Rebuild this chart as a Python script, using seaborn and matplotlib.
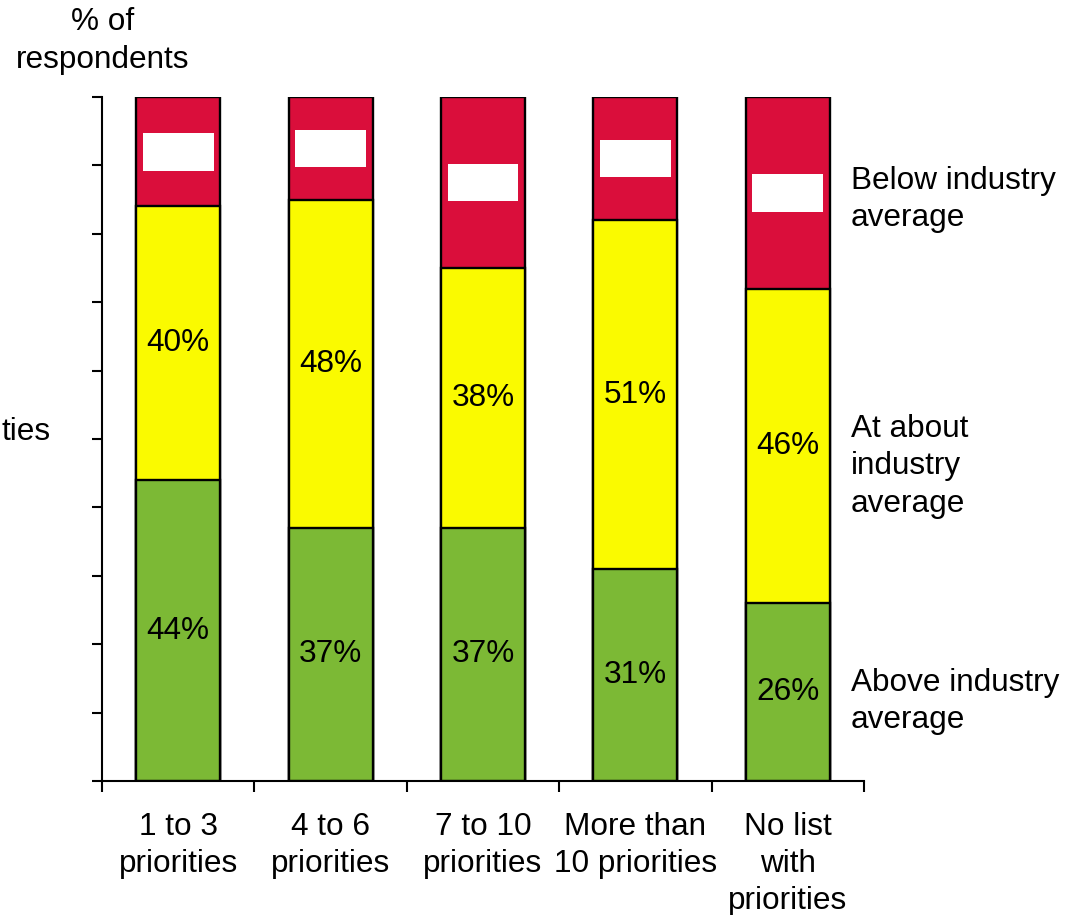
import matplotlib
matplotlib.use("Agg")
import matplotlib.pyplot as plt
import seaborn as sns
import pandas as pd
import numpy as np

categories = ["1 to 3\npriorities", "4 to 6\npriorities", "7 to 10\npriorities",
              "More than\n10 priorities", "No list\nwith\npriorities"]
above = [44, 37, 37, 31, 26]
about = [40, 48, 38, 51, 46]
below = [16, 15, 25, 18, 28]
series_labels = ["Below industry\naverage", "At about\nindustry\naverage", "Above industry\naverage"]

sns.set_theme(style="white")
plt.rcParams["font.family"] = ["Liberation Sans", "DejaVu Sans"]
plt.rcParams["text.color"] = "black"
plt.rcParams["xtick.color"] = "black"
plt.rcParams["ytick.color"] = "black"
FS = 22.7
LS = 1.32

df = pd.DataFrame({"cat": categories, "above": above, "about": about, "below": below})
df["c1"] = df["above"]
df["c2"] = df["above"] + df["about"]
df["c3"] = df["above"] + df["about"] + df["below"]

red = "#DA0E3B"
yellow = "#FAFA00"
green = "#7CB935"

fig = plt.figure(figsize=(10.74, 9.15), dpi=100)
ax = fig.add_axes([102/1074, 1-781/915, (864-102)/1074, (781-97)/915])

kw = dict(width=0.55, edgecolor="black", linewidth=1.7, ax=ax, saturation=1)
sns.barplot(data=df, x="cat", y="c3", color=red, **kw)
sns.barplot(data=df, x="cat", y="c2", color=yellow, **kw)
sns.barplot(data=df, x="cat", y="c1", color=green, **kw)

ax.set_xlim(-0.5, 4.5)
ax.set_ylim(0, 100)
ax.set_xlabel("")
ax.set_ylabel("")

# segment labels
for i in range(len(categories)):
    ax.text(i, above[i] / 2, f"{above[i]}%", ha="center", va="center", fontsize=FS, color="black")
    ax.text(i, above[i] + about[i] / 2, f"{about[i]}%", ha="center", va="center", fontsize=FS, color="black")
    ax.text(i, above[i] + about[i] + below[i] / 2, f"{below[i]}%", ha="center", va="center",
            fontsize=FS, color="white",
            bbox=dict(boxstyle="square,pad=0.12", facecolor="white", edgecolor="none"))

# axes styling
for s in ["top", "right"]:
    ax.spines[s].set_visible(False)
for s in ["left", "bottom"]:
    ax.spines[s].set_color("black")
    ax.spines[s].set_linewidth(1.5)

ax.set_yticks(np.arange(0, 101, 10))
ax.set_yticklabels([])
ax.tick_params(axis="y", direction="out", length=7, width=1.5, color="black", left=True)

ax.set_xticks(range(len(categories)))
ax.set_xticklabels(categories, fontsize=FS, linespacing=LS, color="black")
ax.tick_params(axis="x", which="major", length=0, pad=22)
ax.set_xticks(np.arange(-0.5, 5, 1), minor=True)
ax.tick_params(axis="x", which="minor", direction="out", length=8, width=1.5, color="black", bottom=True)
for lbl in ax.get_xticklabels():
    lbl.set_verticalalignment("top")

# right-side series labels
ax.text(4.415, 85.0, series_labels[0], ha="left", va="center", fontsize=FS, linespacing=LS, clip_on=False)
ax.text(4.415, 46.0, series_labels[1], ha="left", va="center", fontsize=FS, linespacing=LS, clip_on=False)
ax.text(4.415, 11.6, series_labels[2], ha="left", va="center", fontsize=FS, linespacing=LS, clip_on=False)

fig.text(103/1074, 1-41/915, "% of\nrespondents", ha="center", va="center", fontsize=FS, linespacing=LS)
fig.text(2/1074, 1-432/915, "ties", ha="left", va="center", fontsize=FS)

fig.savefig("out.png", dpi=100)
